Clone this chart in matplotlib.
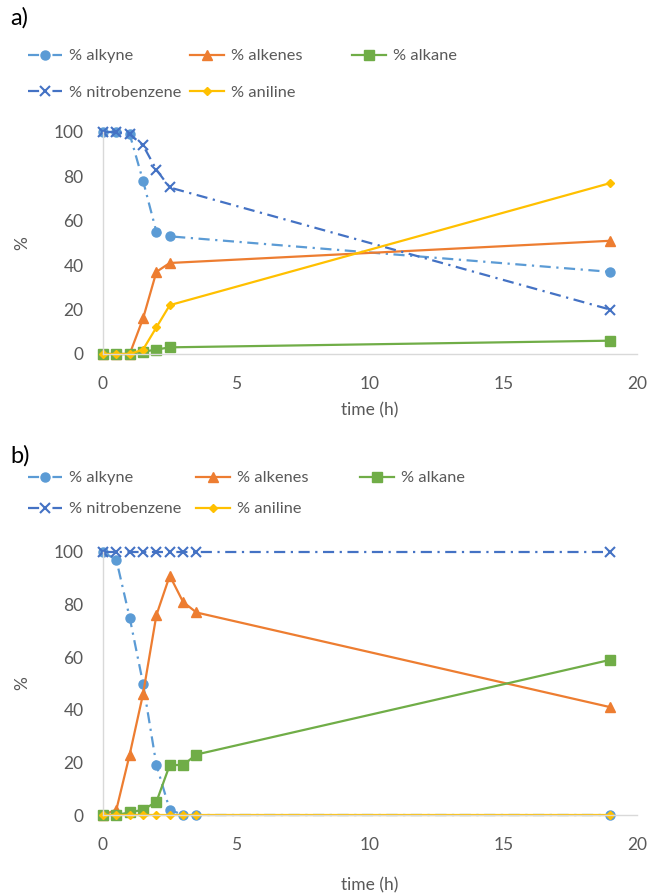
import matplotlib
matplotlib.use("Agg")
import matplotlib.pyplot as plt
from matplotlib.lines import Line2D

plt.rcParams['font.family'] = ['Lato', 'DejaVu Sans']

# ---- data panel a ----
t_a = [0, 0.5, 1, 1.5, 2, 2.5, 19]
alkyne_a = [100, 100, 99, 78, 55, 53, 37]
alkenes_a = [0, 0, 0, 16, 37, 41, 51]
alkane_a = [0, 0, 0, 1, 2, 3, 6]
nitro_a = [100, 100, 99, 94, 83, 75, 20]
aniline_a = [0, 0, 0, 2, 12, 22, 77]

# ---- data panel b ----
t_b = [0, 0.5, 1, 1.5, 2, 2.5, 3, 3.5, 19]
alkyne_b = [100, 97, 75, 50, 19, 2, 0, 0, 0]
alkenes_b = [0, 2, 23, 46, 76, 91, 81, 77, 41]
alkane_b = [0, 0, 1, 2, 5, 19, 19, 23, 59]
nitro_b = [100, 100, 100, 100, 100, 100, 100, 100, 100]
aniline_b = [0, 0, 0, 0, 0, 0, 0, 0, 0]

labels = ['% alkyne', '% alkenes', '% alkane', '% nitrobenzene', '% aniline']
xticks = [0, 5, 10, 15, 20]
yticks = [0, 20, 40, 60, 80, 100]

C_ALKYNE = '#5B9BD5'
C_ALKENE = '#ED7D31'
C_ALKANE = '#70AD47'
C_NITRO = '#4472C4'
C_ANIL = '#FFC000'
GRAY = '#595959'
DASHDOT = (0, (5, 2.5, 1, 2.5))

styles = [
    dict(color=C_ALKYNE, marker='o', ms=6.5, ls=DASHDOT, lw=1.6),
    dict(color=C_ALKENE, marker='^', ms=7, ls='-', lw=1.6),
    dict(color=C_ALKANE, marker='s', ms=6.5, ls='-', lw=1.6),
    dict(color=C_NITRO, marker='x', ms=6.5, mew=1.5, ls=DASHDOT, lw=1.6),
    dict(color=C_ANIL, marker='D', ms=4.5, ls='-', lw=1.6),
]

W, H = 650, 894
fig = plt.figure(figsize=(W / 100, H / 100), dpi=100)


def px_rect(left, right, top, bottom):
    return [left / W, 1 - bottom / H, (right - left) / W, (bottom - top) / H]


def draw_panel(rect, t, series, xlabel_y, tag, tag_y, leg_top, leg_spacing, col_x):
    ax = fig.add_axes(rect)
    for ys, st in zip(series, styles):
        ax.plot(t, ys, clip_on=False, **st)
    ax.set_xlim(0, 20)
    ax.set_ylim(0, 100)
    ax.set_xticks(xticks)
    ax.set_yticks(yticks)
    ax.tick_params(length=0, labelsize=12.5, labelcolor=GRAY, pad=16)
    ax.tick_params(axis='y', pad=14)
    for s in ['top', 'right']:
        ax.spines[s].set_visible(False)
    for s in ['left', 'bottom']:
        ax.spines[s].set_color('#D9D9D9')
        ax.spines[s].set_linewidth(1.0)
    ax.set_ylabel('%', fontsize=12.5, color=GRAY)
    ax.yaxis.set_label_coords((30 - 103) / 534, 0.5)
    fig.text(370 / W, 1 - xlabel_y / H, 'time (h)', ha='center', va='center',
             fontsize=12.5, color=GRAY)
    fig.text(10 / W, 1 - tag_y / H, tag, ha='left', va='center', fontsize=17,
             color='black')
    handles = [Line2D([], [], **st) for st in styles]
    columns = [[0, 3], [1, 4], [2]]
    for cx, idx in zip(col_x, columns):
        fig.legend([handles[i] for i in idx], [labels[i] for i in idx],
                   loc='upper left', bbox_to_anchor=(cx / W, 1 - leg_top / H),
                   ncol=1, frameon=False, fontsize=11.8, labelcolor=GRAY,
                   handlelength=2.1, handletextpad=0.4,
                   labelspacing=leg_spacing, borderaxespad=0, borderpad=0)
    return ax


draw_panel(px_rect(103, 637, 132, 354), t_a,
           [alkyne_a, alkenes_a, alkane_a, nitro_a, aniline_a],
           410, 'a)', 18, 49, 1.35, [28, 190, 352])
draw_panel(px_rect(103, 637, 552, 815), t_b,
           [alkyne_b, alkenes_b, alkane_b, nitro_b, aniline_b],
           885, 'b)', 456, 471, 1.0, [28, 196, 360])

fig.savefig('out.png', dpi=100)
